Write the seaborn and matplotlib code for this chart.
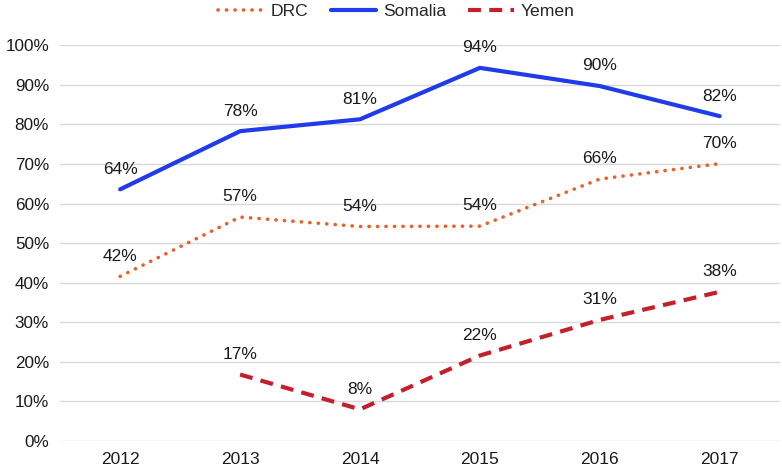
import numpy as np
import pandas as pd
import matplotlib
matplotlib.use("Agg")
import matplotlib.pyplot as plt
import seaborn as sns

# data (percent)
years = [2012, 2013, 2014, 2015, 2016, 2017]
drc = [41.6, 56.6, 54.2, 54.3, 66.2, 70.1]
somalia = [63.6, 78.3, 81.3, 94.3, 89.7, 82.1]
yemen = [np.nan, 16.8, 8.0, 21.6, 30.6, 37.7]
y_ticks = [0, 10, 20, 30, 40, 50, 60, 70, 80, 90, 100]

series = {"DRC": drc, "Somalia": somalia, "Yemen": yemen}
colors = {"DRC": "#E8602A", "Somalia": "#1F3BEA", "Yemen": "#C3202B"}
dash_map = {"DRC": (0.05, 2.3), "Somalia": "", "Yemen": (3.1, 2.0)}
widths = {"DRC": 2.6, "Somalia": 3, "Yemen": 3}

df = pd.concat(
    [pd.DataFrame({"year": years, "value": vals, "country": name}) for name, vals in series.items()],
    ignore_index=True,
)

sns.set_theme(style="white")
plt.rcParams["font.family"] = ["Liberation Sans", "DejaVu Sans"]

fig = plt.figure(figsize=(7.82, 4.75), dpi=100)
ax = fig.add_axes([0.077, 0.0716, 0.92, 0.833])

sns.lineplot(
    data=df.dropna(), x="year", y="value", hue="country", style="country",
    palette=colors, dashes=dash_map, linewidth=3, ax=ax, legend=False,
)
for line, name in zip(ax.lines, series):
    line.set_linewidth(widths[name])
    line.set_dash_capstyle("round" if name == "DRC" else "butt")
    line.set_solid_capstyle("round")

# value labels above each point
for name, vals in series.items():
    for yr, v in zip(years, vals):
        if np.isnan(v):
            continue
        ax.annotate(f"{v:.0f}%", (yr, v), xytext=(0, 14.5), textcoords="offset points",
                    ha="center", va="center", fontsize=12.5, color="#1a1a1a", clip_on=False)

ax.set_xlim(2011.5, 2017.5)
ax.set_ylim(0, 100)
ax.set_xticks(years)
ax.set_xticklabels([str(y) for y in years], fontsize=12.5, color="#1a1a1a")
ax.set_yticks(y_ticks)
ax.set_yticklabels([f"{t}%" for t in y_ticks], fontsize=12.3, color="#1a1a1a")
ax.tick_params(axis="both", length=0, pad=8)
ax.grid(axis="y", color="#D9D9D9", linewidth=1)
ax.set_axisbelow(True)
ax.set_xlabel("")
ax.set_ylabel("")
sns.despine(ax=ax, left=True, bottom=True)

handles = [plt.Line2D([], [], color=colors[n], linewidth=widths[n],
                      linestyle=(0, dash_map[n]) if dash_map[n] else "-",
                      dash_capstyle="round" if n == "DRC" else "butt")
           for n in series]
fig.legend(handles, list(series), loc="upper center", bbox_to_anchor=(0.507, 1.025),
           ncol=3, frameon=False, fontsize=12.6, handlelength=2.6, columnspacing=1.25,
           handletextpad=0.4)

fig.savefig("out.png", dpi=100)
